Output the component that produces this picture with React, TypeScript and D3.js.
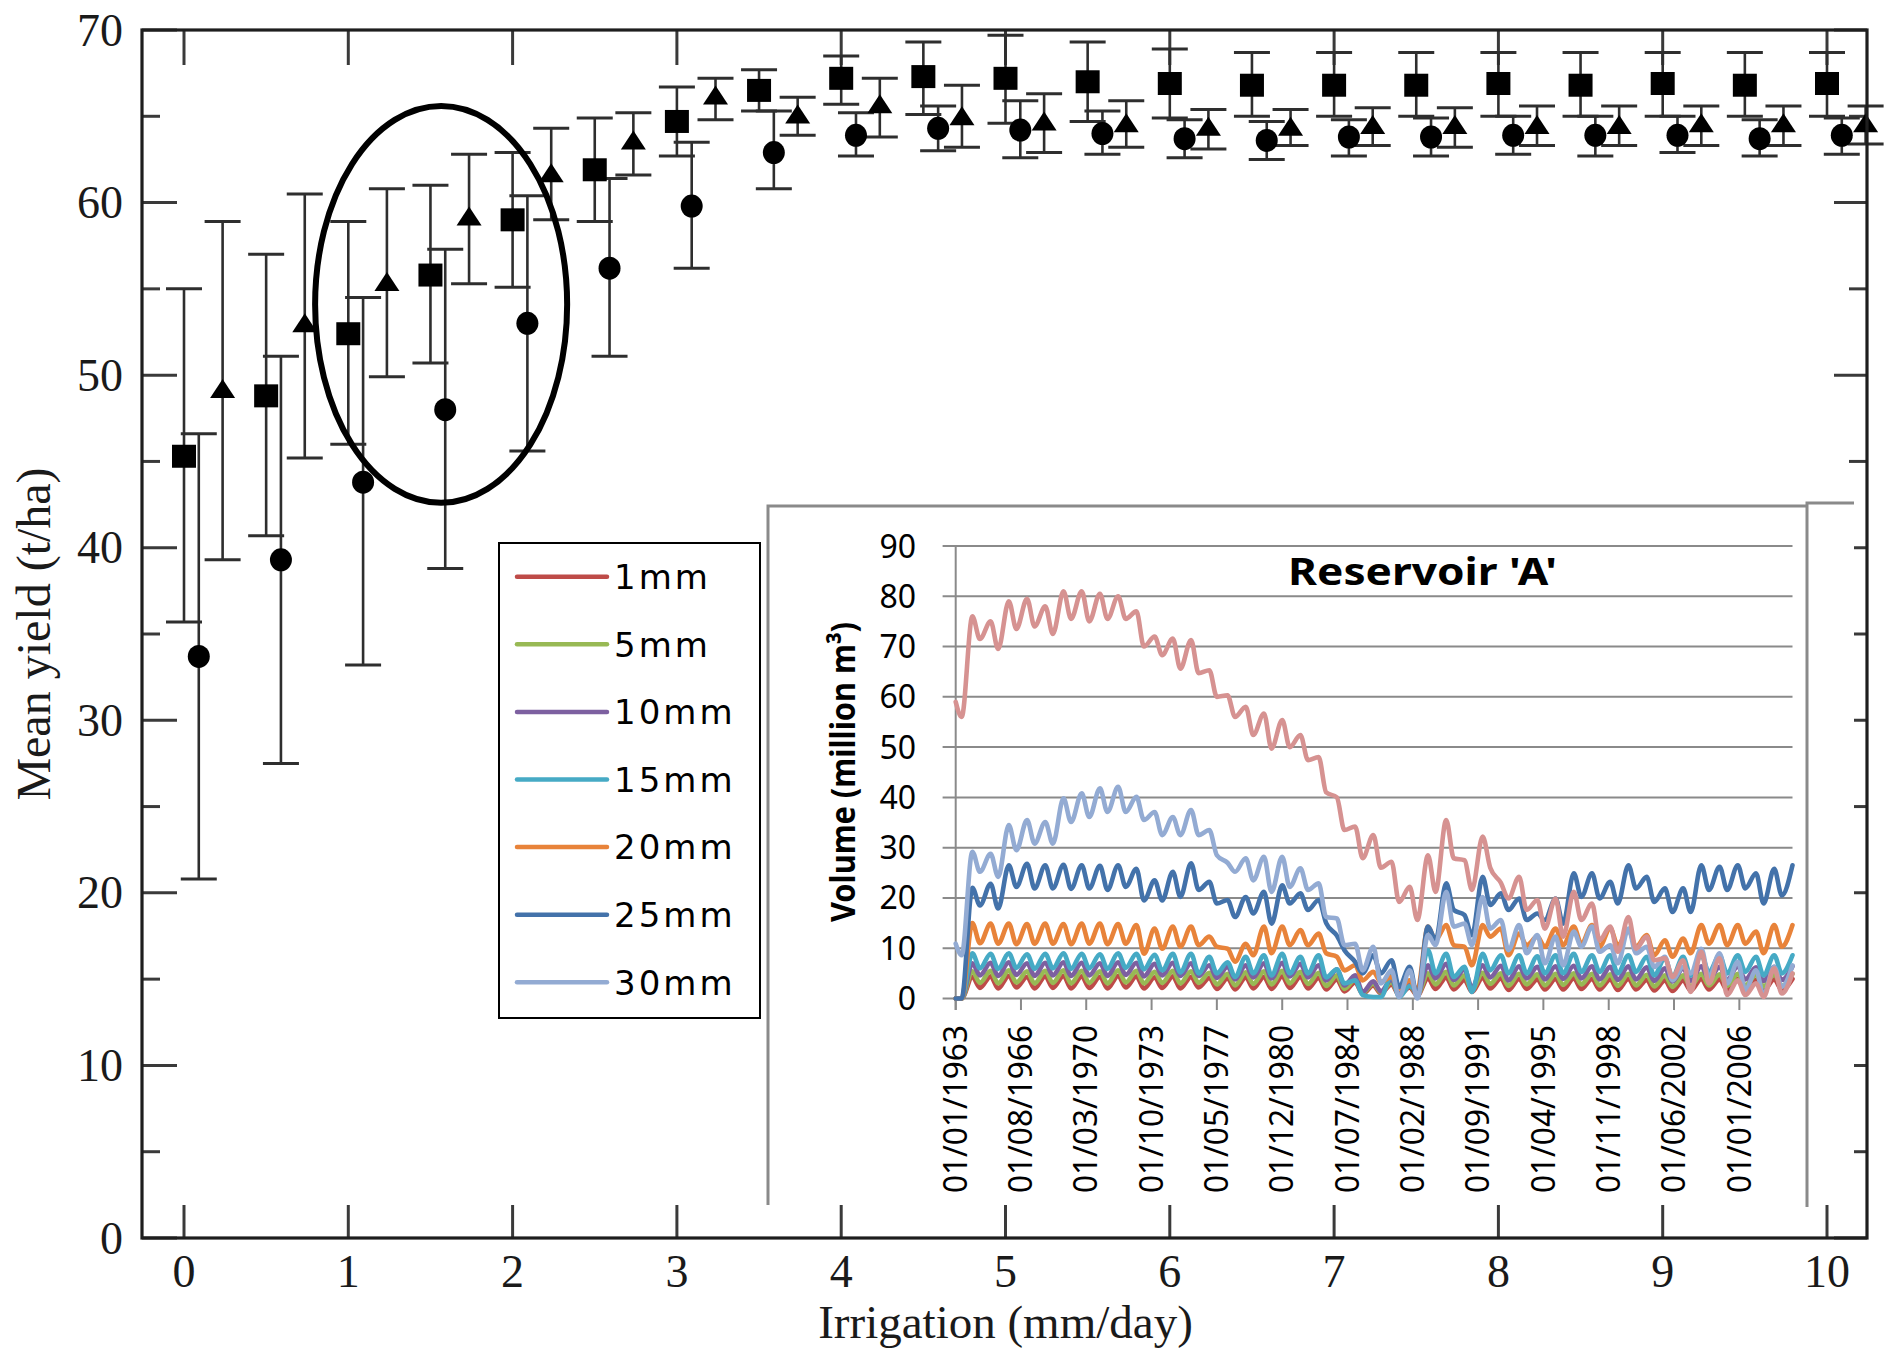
import * as d3 from 'd3'

// ---- main panel: mean yield vs irrigation ----
const irrigation = [0, 0.5, 1, 1.5, 2, 2.5, 3, 3.5, 4, 4.5, 5, 5.5, 6, 6.5, 7, 7.5, 8, 8.5, 9, 9.5, 10]

const squareMean = [45.3, 48.8, 52.4, 55.8, 59.0, 61.9, 64.7, 66.5, 67.2, 67.3, 67.2, 67.0, 66.9, 66.8, 66.8, 66.8, 66.9, 66.8, 66.9, 66.8, 66.9]
const squareLow = [35.7, 40.7, 46.0, 50.7, 55.1, 58.9, 62.7, 65.3, 65.7, 65.1, 64.6, 64.7, 64.9, 65.0, 65.0, 65.0, 65.0, 65.0, 65.0, 65.0, 65.0]
const squareHigh = [55.0, 57.0, 58.9, 61.0, 62.9, 64.9, 66.7, 67.7, 68.5, 69.3, 69.7, 69.3, 68.9, 68.7, 68.7, 68.7, 68.7, 68.7, 68.7, 68.7, 68.7]

const circleMean = [33.7, 39.3, 43.8, 48.0, 53.0, 56.2, 59.8, 62.9, 63.9, 64.3, 64.2, 64.0, 63.7, 63.6, 63.8, 63.8, 63.9, 63.9, 63.9, 63.7, 63.9]
const circleLow = [20.8, 27.5, 33.2, 38.8, 45.6, 51.1, 56.2, 60.8, 62.7, 63.0, 62.6, 62.8, 62.6, 62.5, 62.7, 62.7, 62.8, 62.7, 62.9, 62.7, 62.8]
const circleHigh = [46.6, 51.1, 54.5, 57.3, 60.4, 61.4, 63.5, 65.3, 65.2, 65.6, 65.9, 65.3, 64.8, 64.7, 64.8, 64.9, 65.0, 65.0, 65.0, 64.8, 64.9]

const triangleMean = [49.2, 53.0, 55.4, 59.2, 61.7, 63.6, 66.2, 65.1, 65.7, 65.0, 64.7, 64.6, 64.4, 64.4, 64.5, 64.5, 64.5, 64.5, 64.6, 64.6, 64.6]
const triangleLow = [39.3, 45.2, 49.9, 55.3, 59.0, 61.6, 64.8, 63.9, 63.8, 63.2, 62.9, 63.2, 63.1, 63.3, 63.3, 63.2, 63.3, 63.3, 63.3, 63.3, 63.4]
const triangleHigh = [58.9, 60.5, 60.8, 62.8, 64.3, 65.2, 67.2, 66.1, 67.2, 66.8, 66.3, 65.9, 65.4, 65.4, 65.5, 65.5, 65.6, 65.6, 65.6, 65.6, 65.6]

const xTicks = [0, 1, 2, 3, 4, 5, 6, 7, 8, 9, 10]
const yTicks = [0, 10, 20, 30, 40, 50, 60, 70]
const yMinorTicks = [5, 15, 25, 35, 45, 55, 65]

// ellipse drawn round the 1-2 mm/day group (data units)
const highlight = { x: 1.565, y: 54.1, rx: 0.767, ry: 11.5 }

// ---- inset: reservoir volume ----
const dateLabels = ['01/01/1963', '01/08/1966', '01/03/1970', '01/10/1973', '01/05/1977', '01/12/1980', '01/07/1984',
  '01/02/1988', '01/09/1991', '01/04/1995', '01/11/1998', '01/06/2002', '01/01/2006']
const volumeTicks = [0, 10, 20, 30, 40, 50, 60, 70, 80, 90]
const legendLabels = ['1mm', '5mm', '10mm', '15mm', '20mm', '25mm', '30mm']
const legendColors = ['#BE4B48', '#98B954', '#7D60A0', '#46AAC5', '#E8833A', '#4372AA', '#93ABD3']
const pinkColor = '#D69291'

// sample dates: Jan 1963, then May (low) / Dec (high) of every year
const sampleDates = [new Date(1963, 0, 1)]
for (let yr = 1963; yr <= 2008; yr++) sampleDates.push(new Date(yr, 4, 1), new Date(yr, 11, 1))

const s1mm = [0,
  0, 4.3, 2.1, 4.4, 2.0, 4.5, 2.2, 4.3, 2.0, 4.4, 2.1, 4.5, 2.0, 4.4, 2.1, 4.3, 2.0, 4.5, 2.2, 4.4,
  2.0, 4.2, 2.1, 4.4, 2.0, 4.3, 2.2, 4.1, 1.9, 4.0, 1.8, 4.2, 2.0, 4.3, 1.9, 4.4, 2.1, 4.3, 2.0, 4.1,
  1.8, 3.8, 1.4, 3.2, 0.9, 2.6, 1.0, 2.8, 0.7, 2.2, 0.6, 4.0, 1.9, 4.2, 1.8, 3.7, 1.3, 4.1, 2.0, 4.0,
  1.7, 3.9, 1.9, 3.8, 1.8, 3.9, 1.8, 4.0, 1.9, 3.9, 1.8, 3.8, 1.7, 3.9, 1.8, 3.7, 1.6, 3.6, 1.5, 3.6,
  1.6, 3.9, 1.8, 3.8, 1.7, 3.9, 1.8, 3.7, 1.6, 3.8, 1.7, 3.9]
const s5mm = [0,
  0, 5.4, 3.1, 5.5, 3.0, 5.6, 3.2, 5.4, 3.0, 5.5, 3.1, 5.6, 3.0, 5.5, 3.1, 5.4, 3.0, 5.6, 3.2, 5.5,
  3.0, 5.3, 3.1, 5.5, 3.0, 5.4, 3.1, 5.1, 2.8, 4.9, 2.6, 5.2, 2.9, 5.4, 2.8, 5.5, 3.0, 5.3, 2.9, 5.1,
  2.5, 4.6, 1.9, 3.8, 1.1, 3.0, 1.2, 3.3, 0.8, 2.6, 0.7, 5.0, 2.8, 5.3, 2.6, 4.6, 1.7, 5.1, 2.9, 5.0,
  2.5, 4.9, 2.8, 4.8, 2.6, 4.9, 2.7, 5.0, 2.8, 4.9, 2.6, 4.8, 2.5, 4.9, 2.6, 4.7, 2.4, 4.6, 2.3, 4.6,
  2.4, 4.9, 2.6, 4.8, 2.5, 4.9, 2.6, 4.7, 2.4, 4.8, 2.5, 4.9]
const s10mm = [0,
  0, 7.0, 4.6, 7.1, 4.5, 7.2, 4.7, 7.0, 4.5, 7.1, 4.6, 7.2, 4.5, 7.1, 4.6, 7.0, 4.5, 7.2, 4.7, 7.1,
  4.4, 6.9, 4.6, 7.1, 4.5, 7.0, 4.5, 6.6, 4.1, 6.3, 3.8, 6.6, 4.2, 7.0, 4.0, 7.1, 4.4, 6.9, 4.2, 6.6,
  3.6, 5.8, 2.6, 4.6, 1.3, 3.4, 1.4, 3.8, 0.9, 3.0, 0.8, 6.6, 4.0, 6.9, 3.7, 5.8, 2.2, 6.6, 4.2, 6.5,
  3.6, 6.4, 4.0, 6.3, 3.8, 6.4, 3.9, 6.5, 4.0, 6.4, 3.8, 6.3, 3.7, 6.4, 3.8, 6.2, 3.5, 6.0, 3.4, 6.0,
  3.5, 6.4, 3.8, 6.3, 3.7, 6.4, 3.8, 6.2, 3.5, 6.3, 3.7, 6.4]
const s15mm = [0,
  0, 9.0, 6.0, 8.9, 5.9, 9.0, 6.1, 8.8, 5.9, 8.9, 6.0, 9.0, 5.9, 8.9, 6.0, 8.8, 5.9, 9.0, 6.1, 8.9,
  5.8, 8.7, 5.6, 8.9, 5.2, 8.9, 5.0, 8.3, 5.0, 7.2, 4.3, 8.3, 5.0, 8.6, 4.6, 8.9, 5.0, 8.3, 5.0, 8.6,
  4.2, 5.8, 3.0, 3.6, 0.7, 0.3, 0.3, 4.6, 0.3, 2.5, 1.5, 9.6, 5.0, 8.9, 4.3, 6.3, 1.3, 8.9, 5.6, 8.6,
  5.0, 8.6, 5.0, 8.4, 5.0, 8.6, 5.0, 8.9, 5.3, 8.6, 5.3, 8.6, 5.0, 8.6, 5.3, 8.3, 4.6, 8.0, 4.3, 8.3,
  4.6, 8.6, 5.3, 8.6, 5.0, 8.6, 5.3, 8.3, 4.6, 8.6, 5.0, 8.6]
const s20mm = [0,
  0, 15.0, 11.0, 14.9, 10.9, 14.9, 10.8, 14.8, 10.9, 14.9, 10.9, 14.8, 10.8, 14.9, 10.9, 14.9, 10.8, 14.8, 10.9, 14.6,
  8.9, 13.9, 9.9, 14.3, 10.3, 14.3, 10.6, 12.3, 10.3, 9.9, 7.3, 10.9, 8.6, 14.3, 9.0, 14.3, 10.6, 13.6, 10.6, 12.9,
  9.0, 8.3, 5.6, 6.6, 3.6, 5.3, 3.3, 4.3, 2.0, 3.6, 1.7, 14.3, 11.6, 14.6, 10.6, 10.3, 6.6, 14.6, 12.3, 13.9,
  8.6, 12.9, 10.6, 12.3, 10.3, 13.9, 10.6, 14.3, 10.9, 14.6, 10.3, 14.0, 10.6, 13.6, 10.3, 12.6, 8.6, 11.6, 8.3, 11.9,
  9.0, 14.6, 10.9, 14.6, 10.6, 14.6, 10.9, 13.3, 9.0, 14.6, 10.3, 14.6]
const s25mm = [0,
  0, 22.0, 18.5, 22.8, 17.9, 26.5, 22.2, 26.8, 21.9, 26.5, 21.9, 26.6, 21.8, 26.5, 21.9, 26.4, 21.6, 26.5, 22.2, 25.8,
  19.5, 23.5, 19.5, 25.2, 20.2, 26.9, 21.6, 23.2, 18.9, 19.6, 16.2, 20.2, 16.9, 21.2, 14.9, 22.5, 18.9, 20.9, 17.6, 19.6,
  15.0, 12.5, 9.6, 7.3, 5.0, 8.6, 5.0, 7.6, 2.3, 6.3, 0.3, 14.3, 11.6, 22.9, 17.6, 16.6, 12.6, 24.2, 18.6, 20.9,
  17.6, 19.9, 15.6, 16.9, 15.6, 19.9, 14.9, 24.9, 20.2, 24.9, 19.9, 23.2, 18.9, 26.5, 21.9, 24.2, 19.2, 21.9, 17.2, 21.9,
  17.2, 26.5, 21.6, 26.2, 21.6, 26.5, 21.9, 24.9, 18.9, 25.8, 20.5, 26.5]
const s30mm = [10.9,
  8.6, 29.2, 25.2, 28.8, 24.2, 34.5, 29.5, 35.5, 30.8, 35.1, 30.8, 39.8, 35.1, 40.8, 36.1, 41.8, 37.1, 42.1, 37.1, 40.1,
  35.5, 37.1, 32.5, 36.1, 32.5, 37.5, 32.5, 33.5, 28.5, 27.0, 25.2, 27.9, 23.5, 28.2, 21.2, 28.2, 22.2, 25.9, 21.6, 22.9,
  16.2, 15.9, 10.6, 10.9, 5.6, 10.3, 3.0, 5.6, 0.3, 5.6, 0, 12.6, 10.6, 21.2, 14.3, 14.9, 10.6, 20.2, 13.9, 15.6,
  9.6, 14.6, 9.0, 12.6, 7.0, 12.3, 6.6, 13.3, 10.3, 14.3, 9.3, 10.6, 7.0, 13.9, 9.0, 10.3, 6.3, 8.3, 3.6, 6.3,
  5.0, 9.9, 4.3, 9.0, 3.0, 7.3, 1.7, 5.6, 0.7, 6.3, 2.3, 6.6]
// unlabelled top series (not in the legend)
const sPink = [59,
  56, 76, 71.5, 75, 69.5, 79, 73.5, 79.5, 74, 78, 72.5, 81, 75.5, 81, 75, 80.5, 75.5, 80, 75.5, 77,
  70, 72, 68.3, 71.6, 65.6, 71.3, 64.7, 65.3, 60, 60.3, 56, 58, 52.4, 56.7, 49.7, 55.4, 50, 52.4, 47.4, 48,
  41, 40, 33.5, 34.2, 27.9, 32.5, 26, 27.2, 19.2, 22.2, 15.6, 28.5, 21.2, 35.5, 27.9, 27.5, 21.6, 32.2, 26, 23,
  19.9, 24.2, 17.6, 19.6, 13.9, 19.9, 12.3, 21.2, 15.6, 18.9, 11.6, 14.3, 9.3, 16.2, 9.9, 12.3, 7.6, 8.0, 4.3, 7.6,
  1.3, 9.3, 3.0, 8.0, 0.7, 3.6, 0.7, 3.0, 0.3, 6.0, 1.0, 5.0]

const insetSeries = [s1mm, s5mm, s10mm, s15mm, s20mm, s25mm, s30mm]

const W = 1885
const H = 1351
const serif = '"Liberation Serif", "Times New Roman", serif'
const sans = '"Noto Sans", "DejaVu Sans", sans-serif'

export default function App() {
  // main plot frame
  const left = 142, right = 1867, top = 30, bottom = 1238
  const x = d3.scaleLinear().domain([0, 10]).range([184, 1827])
  const y = d3.scaleLinear().domain([0, 70]).range([bottom, top])

  const circleOffset = 0.09
  const triangleOffset = 0.235
  const capHalf = 18
  const barColor = '#2e2e2e'

  const errorBar = (xv: number, lo: number, hi: number, key: string) => (
    <g key={key} stroke={barColor} strokeWidth={2.6}>
      <line x1={x(xv)} x2={x(xv)} y1={y(hi)} y2={y(lo)} />
      <line x1={x(xv) - capHalf} x2={x(xv) + capHalf} y1={y(hi)} y2={y(hi)} strokeWidth={3} />
      <line x1={x(xv) - capHalf} x2={x(xv) + capHalf} y1={y(lo)} y2={y(lo)} strokeWidth={3} />
    </g>
  )

  // inset scales
  const parseDate = d3.timeParse('%d/%m/%Y')
  const tickDates = dateLabels.map((s) => parseDate(s) as Date)
  const tx = d3.scaleTime().domain([new Date(1963, 0, 1), new Date(2008, 11, 1)]).range([955.7, 1792.5])
  const vy = d3.scaleLinear().domain([0, 90]).range([998.5, 546])
  const lineGen = d3
    .line<number>()
    .x((_, i) => tx(sampleDates[i]))
    .y((d) => vy(d))
    .curve(d3.curveMonotoneX)

  const legendX = 499, legendY = 543, legendW = 261, legendH = 475
  const legendRow = 67.6

  return (
    <svg width={W} height={H} style={{ position: 'absolute', left: 0, top: 0, background: '#fff' }}>
      <rect x={0} y={0} width={W} height={H} fill="#fff" />

      {/* axis ticks of main plot */}
      <g stroke="#3a3a3a" strokeWidth={3}>
        {yTicks.map((t) => (
          <g key={'yt' + t}>
            <line x1={left} x2={left + 35} y1={y(t)} y2={y(t)} />
            <line x1={right - 33} x2={right} y1={y(t)} y2={y(t)} />
          </g>
        ))}
        {yMinorTicks.map((t) => (
          <g key={'ym' + t}>
            <line x1={left} x2={left + 18} y1={y(t)} y2={y(t)} />
            <line x1={right - 18} x2={right} y1={y(t)} y2={y(t)} />
          </g>
        ))}
        {xTicks.map((t) => (
          <g key={'xt' + t}>
            <line x1={x(t)} x2={x(t)} y1={top} y2={top + 35} />
            <line x1={x(t)} x2={x(t)} y1={bottom} y2={bottom - 33} />
          </g>
        ))}
      </g>

      {/* error bars */}
      {irrigation.map((v, i) => errorBar(v, squareLow[i], squareHigh[i], 'sq' + i))}
      {irrigation.map((v, i) => errorBar(v + circleOffset, circleLow[i], circleHigh[i], 'ci' + i))}
      {irrigation.map((v, i) => errorBar(v + triangleOffset, triangleLow[i], triangleHigh[i], 'tr' + i))}

      {/* markers */}
      {irrigation.map((v, i) => (
        <rect key={'sqm' + i} x={x(v) - 12} y={y(squareMean[i]) - 11.5} width={24} height={23} fill="#000" />
      ))}
      {irrigation.map((v, i) => (
        <ellipse key={'cim' + i} cx={x(v + circleOffset)} cy={y(circleMean[i])} rx={11} ry={11.5} fill="#000" />
      ))}
      {irrigation.map((v, i) => {
        const cx = x(v + triangleOffset)
        const cy = y(triangleMean[i])
        return <path key={'trm' + i} d={`M${cx},${cy - 10}L${cx + 12.5},${cy + 9}L${cx - 12.5},${cy + 9}Z`} fill="#000" />
      })}

      {/* highlight ellipse */}
      <ellipse
        cx={x(highlight.x)}
        cy={y(highlight.y)}
        rx={x(highlight.x + highlight.rx) - x(highlight.x)}
        ry={y(highlight.y - highlight.ry) - y(highlight.y)}
        fill="none"
        stroke="#000"
        strokeWidth={6}
      />

      {/* frame */}
      <rect x={left} y={top} width={right - left} height={bottom - top} fill="none" stroke="#1e1e1e" strokeWidth={3.2} />

      {/* tick labels */}
      <g fontFamily={serif} fontSize={46} fill="#1a1a1a">
        {xTicks.map((t) => (
          <text key={'xl' + t} x={x(t)} y={1287} textAnchor="middle">
            {t}
          </text>
        ))}
        {yTicks.map((t) => (
          <text key={'yl' + t} x={123} y={y(t)} dy="0.34em" textAnchor="end">
            {t}
          </text>
        ))}
      </g>
      <text x={x(5)} y={1338} textAnchor="middle" fontFamily={serif} fontSize={47} fill="#1a1a1a">
        Irrigation (mm/day)
      </text>
      <text
        transform={`translate(50, ${(top + bottom) / 2}) rotate(-90)`}
        textAnchor="middle"
        fontFamily={serif}
        fontSize={48}
        fill="#1a1a1a"
      >
        Mean yield (t/ha)
      </text>

      {/* legend box */}
      <rect x={legendX} y={legendY} width={legendW} height={legendH} fill="#fff" stroke="#000" strokeWidth={2} />
      {legendLabels.map((lab, i) => {
        const ly = 576.7 + i * legendRow
        return (
          <g key={lab}>
            <line x1={517} x2={607} y1={ly} y2={ly} stroke={legendColors[i]} strokeWidth={4.5} strokeLinecap="round" />
            <text x={614} y={ly} dy="0.36em" fontFamily='"DejaVu Sans", sans-serif' fontSize={34} letterSpacing={3} fill="#000">
              {lab}
            </text>
          </g>
        )
      })}

      {/* inset picture */}
      <rect x={766} y={503} width={1854 - 766} height={1205 - 503} fill="#fff" />
      <g stroke="#8a8a8a" strokeWidth={3} fill="none">
        <polyline points="768,1205 768,506 1807,506" />
        <polyline points="1807,1207 1807,503 1854,503" />
      </g>

      {/* inset grid */}
      <g stroke="#8a8a8a" strokeWidth={2}>
        {volumeTicks.map((t) => (
          <line key={'g' + t} x1={942.6} x2={1792.5} y1={vy(t)} y2={vy(t)} />
        ))}
        <line x1={955.7} x2={955.7} y1={vy(90)} y2={1010} />
        {tickDates.map((d, i) => (
          <line key={'tk' + i} x1={tx(d)} x2={tx(d)} y1={vy(0)} y2={1010} />
        ))}
      </g>

      {/* inset series */}
      <g fill="none" strokeWidth={4.6} strokeLinejoin="round" strokeLinecap="round">
        {insetSeries.map((s, i) => (
          <path key={'s' + i} d={lineGen(s) || ''} stroke={legendColors[i]} />
        ))}
        <path d={lineGen(sPink) || ''} stroke={pinkColor} />
      </g>

      {/* inset labels */}
      <g fontFamily={sans} fontSize={32} fill="#000">
        {volumeTicks.map((t) => (
          <text key={'vl' + t} x={916} y={vy(t)} dy="0.36em" textAnchor="end">
            {t}
          </text>
        ))}
        {dateLabels.map((lab, i) => (
          <text
            key={'dl' + i}
            transform={`translate(${tx(tickDates[i])}, 1025) rotate(-90)`}
            dy="0.35em"
            textAnchor="end"
            textLength={168}
            lengthAdjust="spacingAndGlyphs"
          >
            {lab}
          </text>
        ))}
      </g>
      <text
        transform="translate(855, 772) rotate(-90)"
        textAnchor="middle"
        fontFamily={sans}
        fontWeight="bold"
        fontSize={34}
        textLength={300}
        lengthAdjust="spacingAndGlyphs"
        fill="#000"
      >
        Volume (million m³)
      </text>
      <text
        x={1288}
        y={585}
        fontFamily={sans}
        fontWeight="bold"
        fontSize={38}
        textLength={269}
        lengthAdjust="spacingAndGlyphs"
        fill="#000"
      >
        Reservoir 'A'
      </text>
    </svg>
  )
}
